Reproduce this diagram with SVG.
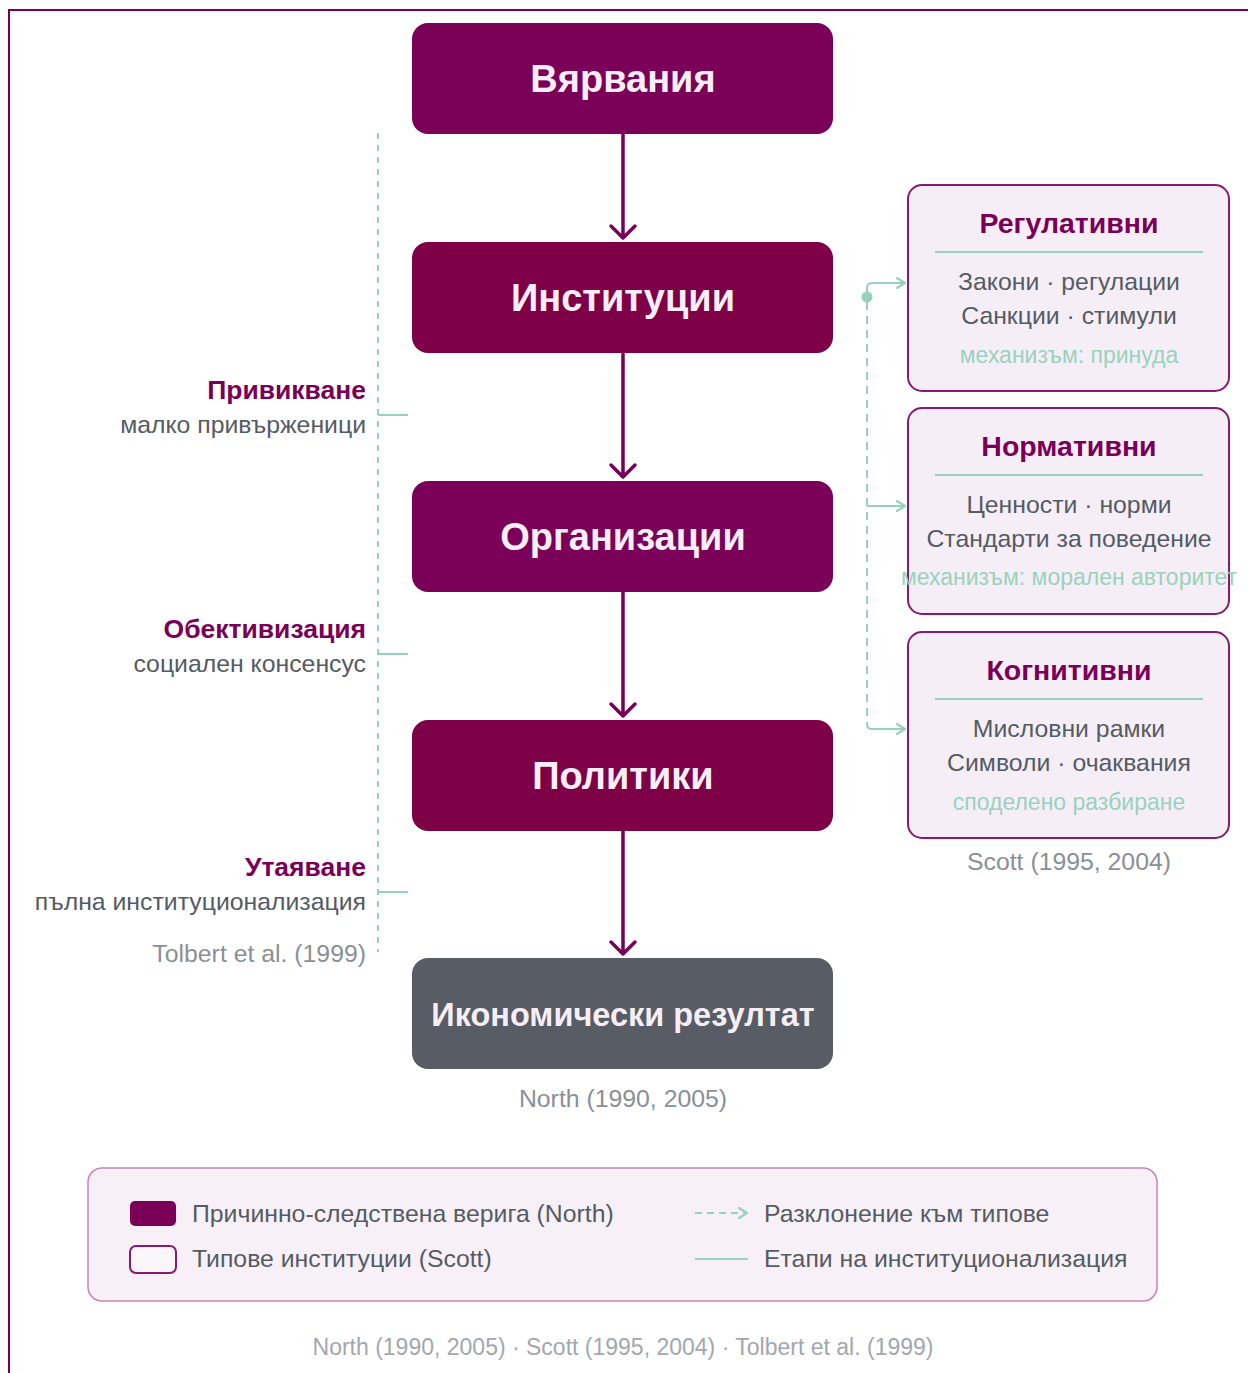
<svg xmlns="http://www.w3.org/2000/svg" width="1248" height="1373" viewBox="0 0 1248 1373">
  <style>
    text { font-family: "Liberation Sans", Arial, sans-serif; }
    .main { font-size: 38px; font-weight: bold; fill: #F6EEF6; text-anchor: middle; }
    .ttl { font-size: 28.5px; font-weight: bold; fill: #7A0057; text-anchor: middle; }
    .body { font-size: 24.8px; fill: #555B63; text-anchor: middle; }
    .mech { font-size: 23px; fill: #9AD2BC; text-anchor: middle; }
    .stage { font-size: 26.5px; font-weight: bold; fill: #7A0057; text-anchor: end; }
    .sub { font-size: 24.8px; fill: #555B63; text-anchor: end; }
    .cite { font-size: 24.8px; fill: #8A8F97; }
    .leg { font-size: 24.8px; fill: #555B63; }
    .type { fill: #F6EEF7; stroke: #8A1A6E; stroke-width: 2; }
    .chain { stroke: #7A0057; stroke-width: 3.5; fill: none; stroke-linecap: round; stroke-linejoin: round; }
    .mint { stroke: #97D2BB; stroke-width: 2; fill: none; }
  </style>
  <defs>
    <marker id="chev" viewBox="0 0 12 12" refX="10" refY="6" markerWidth="12" markerHeight="12" markerUnits="userSpaceOnUse" orient="auto">
      <path d="M2,1 L10,6 L2,11" fill="none" stroke="#97D2BB" stroke-width="2.2" stroke-linecap="round" stroke-linejoin="round"/>
    </marker>
  </defs>

  <rect width="1248" height="1373" fill="#FFFFFF"/>
  <!-- outer frame -->
  <rect x="9" y="10" width="1300" height="1420" fill="none" stroke="#7A0057" stroke-width="2"/>

  <!-- connectors -->
  <g id="connectors">
    <!-- causal chain -->
    <path class="chain" d="M623,134 V238 M611,226 L623,238 L635,226"/>
    <path class="chain" d="M623,354 V477 M611,465 L623,477 L635,465"/>
    <path class="chain" d="M623,592 V716 M611,704 L623,716 L635,704"/>
    <path class="chain" d="M623,831 V954 M611,942 L623,954 L635,942"/>
    <!-- branch to institution types -->
    <circle cx="867" cy="297" r="5.5" fill="#97D2BB"/>
    <path class="mint" d="M867,297 V288 Q867,283 872,283 H905" marker-end="url(#chev)"/>
    <path class="mint" d="M867,302 V724" stroke-dasharray="8 6"/>
    <path class="mint" d="M867,506 H905" marker-end="url(#chev)"/>
    <path class="mint" d="M867,722 V724 Q867,729 872,729 H905" marker-end="url(#chev)"/>
    <!-- institutionalisation stages -->
    <path class="mint" d="M378,133 V952" stroke-width="1.5" stroke-dasharray="6 6"/>
    <path class="mint" d="M378,415 H408 M378,654 H408 M378,892 H408" stroke-width="1.5"/>
  </g>

  <!-- causal chain nodes -->
  <g id="node-beliefs">
    <rect x="412" y="23" width="421" height="111" rx="16" fill="#7B0058"/>
    <text class="main" x="623" y="92">Вярвания</text>
  </g>
  <g id="node-institutions">
    <rect x="412" y="242" width="421" height="111" rx="16" fill="#7E0046"/>
    <text class="main" x="623" y="311">Институции</text>
  </g>
  <g id="node-organisations">
    <rect x="412" y="481" width="421" height="111" rx="16" fill="#7B0058"/>
    <text class="main" x="623" y="550">Организации</text>
  </g>
  <g id="node-policies">
    <rect x="412" y="720" width="421" height="111" rx="16" fill="#7E0046"/>
    <text class="main" x="623" y="789">Политики</text>
  </g>
  <g id="node-outcome">
    <rect x="412" y="958" width="421" height="111" rx="16" fill="#585C64"/>
    <text class="main" x="623" y="1026" style="font-size:32.5px">Икономически резултат</text>
  </g>
  <text class="cite" x="623" y="1107" text-anchor="middle">North (1990, 2005)</text>

  <!-- Scott's institution types -->
  <g id="node-regulative">
    <rect class="type" x="908" y="185" width="321" height="206" rx="14"/>
    <text class="ttl" x="1069" y="233">Регулативни</text>
    <line class="mint" x1="935" y1="252" x2="1203" y2="252" stroke-width="1.5"/>
    <text class="body" x="1069" y="290">Закони · регулации</text>
    <text class="body" x="1069" y="324">Санкции · стимули</text>
    <text class="mech" x="1069" y="363">механизъм: принуда</text>
  </g>
  <g id="node-normative">
    <rect class="type" x="908" y="408" width="321" height="206" rx="14"/>
    <text class="ttl" x="1069" y="456">Нормативни</text>
    <line class="mint" x1="935" y1="475" x2="1203" y2="475" stroke-width="1.5"/>
    <text class="body" x="1069" y="513">Ценности · норми</text>
    <text class="body" x="1069" y="547">Стандарти за поведение</text>
    <text class="mech" x="1069" y="585">механизъм: морален авторитет</text>
  </g>
  <g id="node-cognitive">
    <rect class="type" x="908" y="632" width="321" height="206" rx="14"/>
    <text class="ttl" x="1069" y="680">Когнитивни</text>
    <line class="mint" x1="935" y1="699" x2="1203" y2="699" stroke-width="1.5"/>
    <text class="body" x="1069" y="737">Мисловни рамки</text>
    <text class="body" x="1069" y="771">Символи · очаквания</text>
    <text class="mech" x="1069" y="810">споделено разбиране</text>
  </g>
  <text class="cite" x="1069" y="870" text-anchor="middle">Scott (1995, 2004)</text>

  <!-- stages of institutionalisation -->
  <g id="stage-habitualisation">
    <text class="stage" x="366" y="399">Привикване</text>
    <text class="sub" x="366" y="433">малко привърженици</text>
  </g>
  <g id="stage-objectification">
    <text class="stage" x="366" y="638">Обективизация</text>
    <text class="sub" x="366" y="672">социален консенсус</text>
  </g>
  <g id="stage-sedimentation">
    <text class="stage" x="366" y="876">Утаяване</text>
    <text class="sub" x="366" y="910">пълна институционализация</text>
  </g>
  <text class="cite" x="366" y="962" text-anchor="end">Tolbert et al. (1999)</text>

  <!-- legend -->
  <g id="legend">
    <rect x="88" y="1168" width="1069" height="133" rx="14" fill="#F8F0F7" stroke="#C584B8" stroke-width="1.5"/>
    <rect x="130" y="1201" width="46" height="25" rx="5" fill="#7A0057"/>
    <text class="leg" x="192" y="1222">Причинно-следствена верига (North)</text>
    <rect x="130" y="1246" width="46" height="27" rx="6" fill="#FBF6FA" stroke="#8A1A6E" stroke-width="2"/>
    <text class="leg" x="192" y="1267">Типове институции (Scott)</text>
    <path class="mint" d="M695,1213 H747" stroke-width="2.4" stroke-dasharray="7 5" marker-end="url(#chev)"/>
    <text class="leg" x="764" y="1222">Разклонение към типове</text>
    <path class="mint" d="M695,1259 H748" stroke-width="2.2"/>
    <text class="leg" x="764" y="1267">Етапи на институционализация</text>
  </g>

  <text x="623" y="1355" text-anchor="middle" style="font-size:23px;fill:#A3A7AD">North (1990, 2005) · Scott (1995, 2004) · Tolbert et al. (1999)</text>
</svg>
